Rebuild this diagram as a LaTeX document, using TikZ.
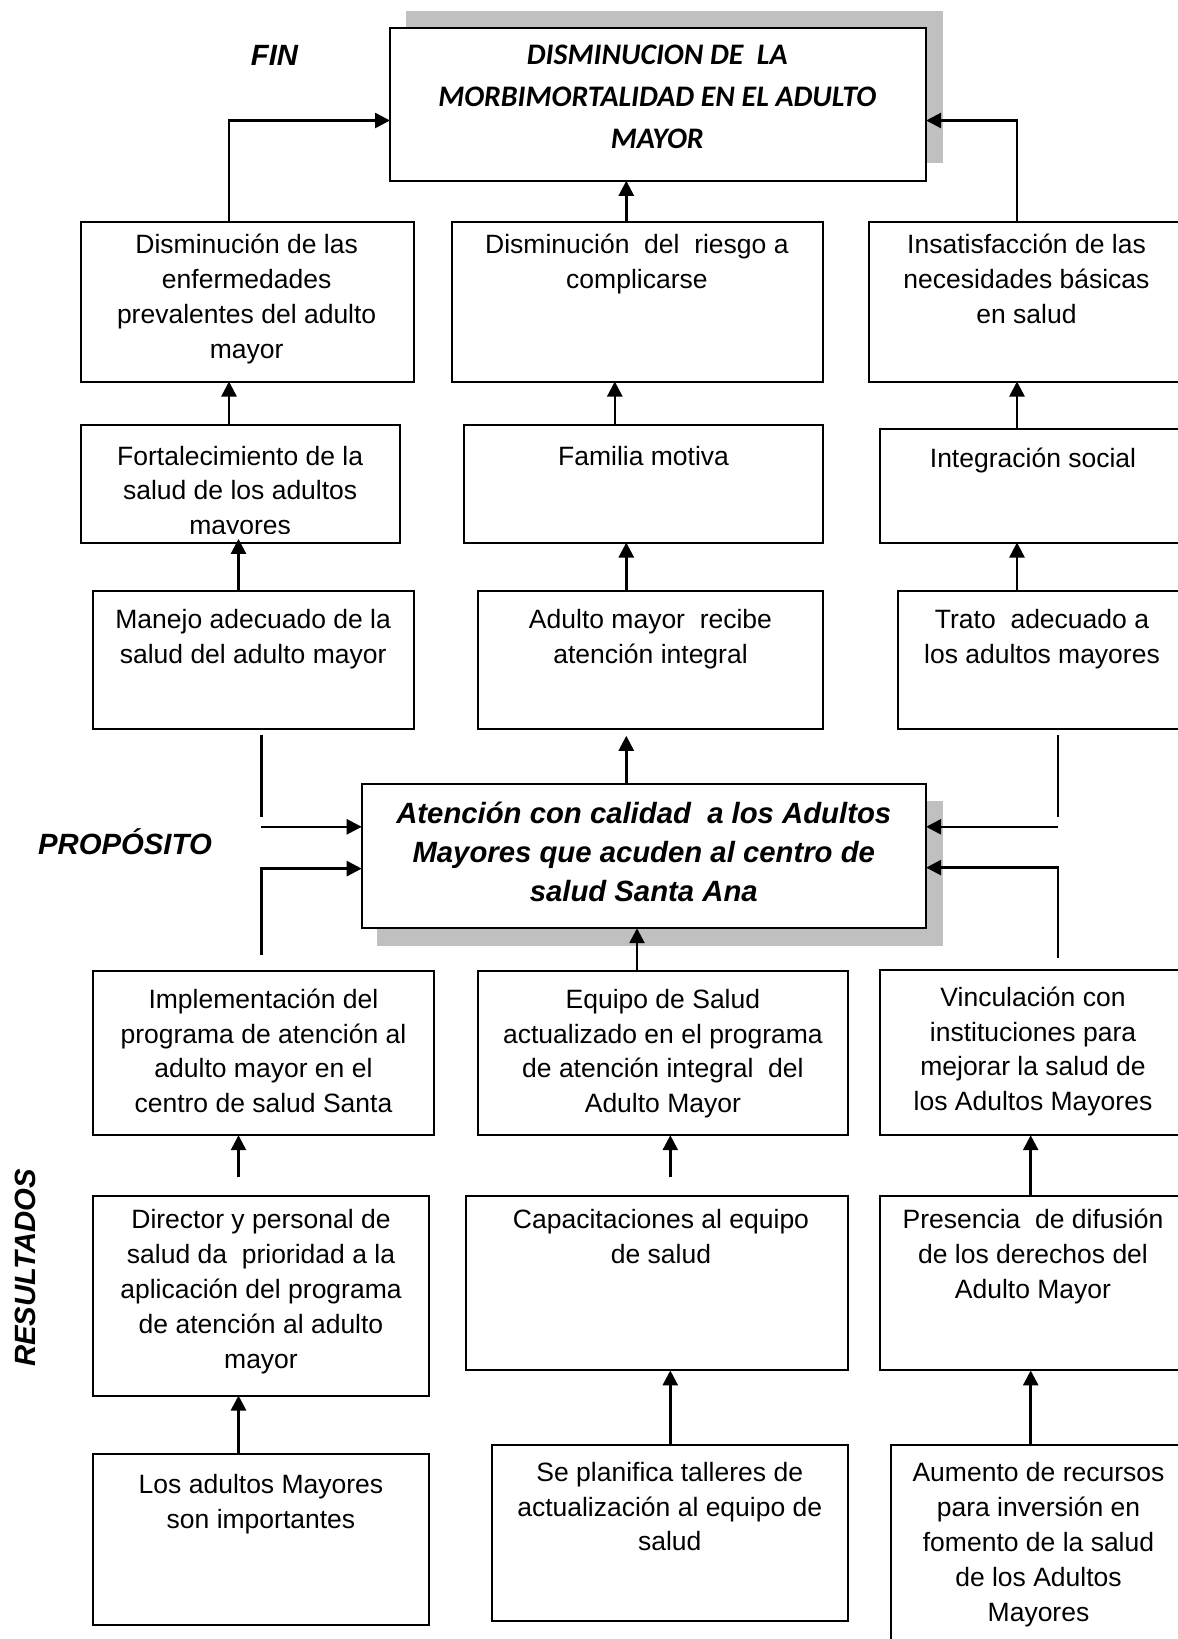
\documentclass[tikz,border=0pt]{standalone}
\usepackage{fontspec}
\setmainfont{Liberation Sans}
\newfontfamily\calib{Carlito}
\usetikzlibrary{arrows.meta}
\definecolor{shadowgray}{RGB}{192,192,192}
\tikzset{
  bx/.style={draw=black, line width=1pt, fill=white, inner sep=0pt, outer sep=0pt},
  shd/.style={fill=shadowgray, draw=none},
  tx/.style={inner sep=0pt, outer sep=0pt, anchor=base},
  ln/.style={line width=1.3pt, draw=black},
  arr/.style={ln, -{Triangle[length=7.5pt,width=7.5pt]}},
}
% box: name, x1, y1, x2, y2
\newcommand\mybx[5]{\node[bx, minimum width={(#4-#2)*0.5pt}, minimum height={(#5-#3)*0.5pt}] (#1) at ({(#2+#4)/2},{(#3+#5)/2}) {};}
% text: name, x, baseline y, baselineskip(pt), text
\newcommand\mytx[5]{\node[tx] (#1) at (#2,#3) {\parbox[t]{300pt}{\centering\fontsize{13.25}{#4}\selectfont #5}};}
\begin{document}
\begin{tikzpicture}[x=0.5pt,y=-0.5pt]
\useasboundingbox (0,0) rectangle (1178,1639);
% shadows
\path[shd] (405.6,10.5) rectangle (942.9,163);
\path[shd] (377,800.7) rectangle (942.9,946);
% boxes
\mybx{T}{390}{28.2}{926.1}{180.8}
\mybx{B1}{80.5}{222}{414}{381.5}
\mybx{B2}{451.6}{222}{822.7}{381.5}
\mybx{B3}{868.6}{222}{1186}{381.5}
\mybx{B4}{80.5}{425.4}{400.3}{542.5}
\mybx{B5}{464.1}{425.4}{822.7}{542.5}
\mybx{B6}{880.1}{428.6}{1186}{542.5}
\mybx{B7}{93}{590.6}{414}{728.6}
\mybx{B8}{477.7}{590.6}{822.7}{728.6}
\mybx{B9}{897.9}{590.6}{1186}{728.6}
\mybx{P}{361.7}{784}{926.1}{928.2}
\mybx{B10}{93}{971.1}{433.8}{1135.2}
\mybx{B11}{477.7}{971.1}{847.7}{1135.2}
\mybx{B12}{880.1}{970}{1186}{1135.2}
\mybx{B13}{93}{1195.5}{428.6}{1395.5}
\mybx{B14}{466.2}{1195.5}{847.7}{1370.4}
\mybx{B15}{880.1}{1195.5}{1186}{1370.4}
\mybx{B16}{93}{1454}{428.6}{1624.5}
\mybx{B17}{492.3}{1444.6}{847.7}{1621}
\mybx{B18}{890.6}{1444.6}{1186}{1700}
% side labels
\node[tx] (lfin) at (274.5,65) {\fontsize{14.65}{17}\selectfont\bfseries\itshape FIN};
\node[tx] (lprop) at (124.95,854) {\fontsize{14.65}{17}\selectfont\bfseries\itshape PROPÓSITO};
\node[tx, rotate=90] (lres) at (35,1268) {\fontsize{14.65}{17}\selectfont\bfseries\itshape RESULTADOS};
% texts
\node[tx] (tT) at (657.3,64.2) {\parbox[t]{300pt}{\centering\calib\fontsize{14.9}{21.15}\selectfont\bfseries\itshape DISMINUCION DE~ LA\\ MORBIMORTALIDAD EN EL ADULTO\\ MAYOR}};
\mytx{t1}{246.65}{253.1}{17.6}{Disminución de las\\ enfermedades\\ prevalentes del adulto\\ mayor}
\mytx{t2}{636.9}{253.1}{17.6}{Disminución~ del~ riesgo a\\ complicarse}
\mytx{t3}{1026.5}{253.1}{17.6}{Insatisfacción de las\\ necesidades básicas\\ en salud}
\begin{scope}
\clip (80.5,425.4) rectangle (400.3,533);
\mytx{t4}{240.15}{465.3}{17.25}{Fortalecimiento de la\\ salud de los adultos\\ mayores}
\end{scope}
\mytx{t5}{643.6}{465.3}{17.25}{Familia motiva}
\mytx{t6}{1033}{467.3}{17.25}{Integración social}
\mytx{t7}{253.15}{628.3}{17.8}{Manejo adecuado de la\\ salud del adulto mayor}
\mytx{t8}{650.5}{628.3}{17.8}{Adulto mayor~ recibe\\ atención integral}
\mytx{t9}{1042}{628.3}{17.8}{Trato~ adecuado a\\ los adultos mayores}
\node[tx] (tP) at (643.75,823.7) {\parbox[t]{300pt}{\centering\fontsize{14.65}{19.35}\selectfont\bfseries\itshape Atención con calidad~ a los Adultos\\ Mayores que acuden al centro de\\ salud Santa Ana}};
\mytx{t10}{263.45}{1008.8}{17.25}{Implementación del\\ programa de atención al\\ adulto mayor en el\\ centro de salud Santa}
\mytx{t11}{662.9}{1008.8}{17.25}{Equipo de Salud\\ actualizado en el programa\\ de atención integral~ del\\ Adulto Mayor}
\mytx{t12}{1033}{1006.7}{17.25}{Vinculación con\\ instituciones para\\ mejorar la salud de\\ los Adultos Mayores}
\mytx{t13}{261}{1228.3}{17.5}{Director y personal de\\ salud da~ prioridad a la\\ aplicación del programa\\ de atención al adulto\\ mayor}
\mytx{t14}{661}{1228.3}{17.5}{Capacitaciones al equipo\\ de salud}
\mytx{t15}{1033}{1228.3}{17.5}{Presencia~ de difusión\\ de los derechos del\\ Adulto Mayor}
\mytx{t16}{261}{1493.8}{17.25}{Los adultos Mayores\\ son importantes}
\mytx{t17}{669.75}{1481.3}{17.4}{Se planifica talleres de\\ actualización al equipo de\\ salud}
\mytx{t18}{1038.5}{1481.3}{17.5}{Aumento de recursos\\ para inversión en\\ fomento de la salud\\ de los Adultos\\ Mayores}
% helper coordinates
\coordinate (c1) at (261.3,817.4);
\coordinate (c2) at (261.3,826.8);
\coordinate (c3) at (1057.8,817.4);
\coordinate (c4) at (1057.8,826.8);
% connectors
\draw[arr] (229,0 |- B1.north) |- (T.west |- 0,120.5);
\draw[arr] (626.3,0 |- B2.north) -- (626.3,0 |- T.south);
\draw[arr] (1017,0 |- B3.north) |- (T.east |- 0,120.5);
\draw[arr] (229,0 |- B4.north) -- (229,0 |- B1.south);
\draw[arr] (614.8,0 |- B5.north) -- (614.8,0 |- B2.south);
\draw[arr] (1017,0 |- B6.north) -- (1017,0 |- B3.south);
\draw[arr, shorten >=-1.8pt] (238.5,0 |- B7.north) -- (238.5,0 |- B4.south);
\draw[arr] (626.3,0 |- B8.north) -- (626.3,0 |- B5.south);
\draw[arr] (1017,0 |- B9.north) -- (1017,0 |- B6.south);
\draw[arr, shorten >=3.6pt] (626.3,0 |- P.north) -- (626.3,0 |- B8.south);
\draw[ln, shorten <=3pt] (261.3,0 |- B7.south) -- (c1);
\draw[arr] (c2) -- (P.west |- c2);
\draw[arr, shorten <=8.3pt] (261.3,0 |- B10.north) |- (P.west |- 0,868.6);
\draw[ln, shorten <=3.2pt] (1057.8,0 |- B9.south) -- (c3);
\draw[arr] (c4) -- (P.east |- c4);
\draw[arr, shorten <=6.2pt] (1057.8,0 |- B12.north) |- (P.east |- 0,867.6);
\draw[arr] (637,0 |- B11.north) -- (637,0 |- P.south);
\draw[arr, shorten <=9.5pt] (238.5,0 |- B13.north) -- (238.5,0 |- B10.south);
\draw[arr, shorten <=9.5pt] (670.3,0 |- B14.north) -- (670.3,0 |- B11.south);
\draw[arr] (1030.7,0 |- B15.north) -- (1030.7,0 |- B12.south);
\draw[arr] (238.5,0 |- B16.north) -- (238.5,0 |- B13.south);
\draw[arr] (670.3,0 |- B17.north) -- (670.3,0 |- B14.south);
\draw[arr] (1030.7,0 |- B18.north) -- (1030.7,0 |- B15.south);
\end{tikzpicture}
\end{document}
